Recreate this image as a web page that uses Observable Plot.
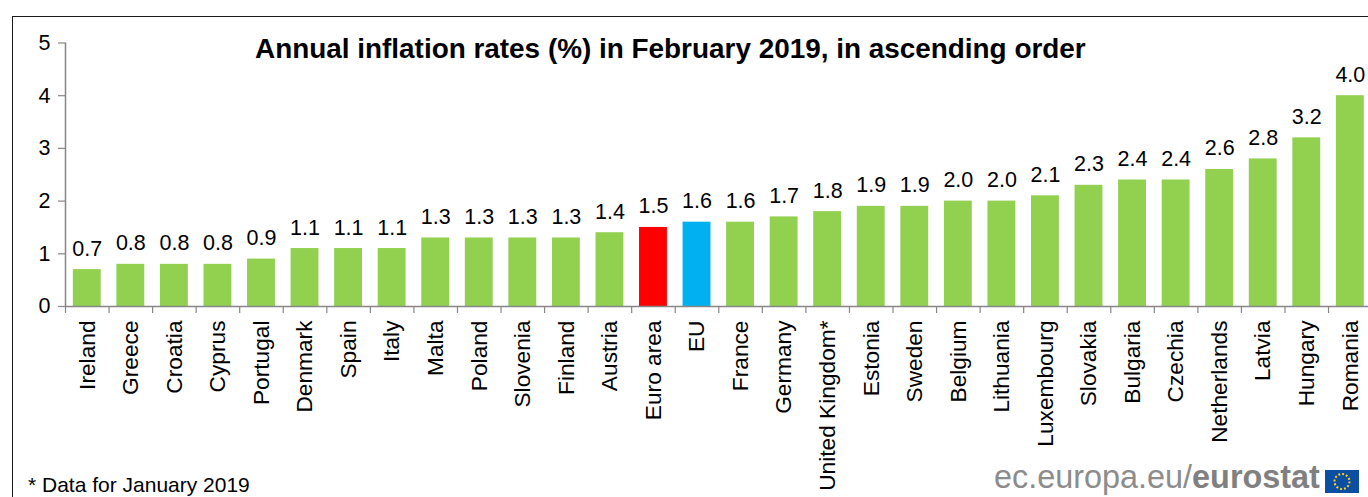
<!DOCTYPE html>
<html>
<head>
<meta charset="utf-8">
<script src="https://cdn.jsdelivr.net/npm/d3@7"></script>
<script src="https://cdn.jsdelivr.net/npm/@observablehq/plot@0.6"></script>
<style>
  html, body { margin: 0; padding: 0; background: #fff; overflow: hidden; }
  #wrap { position: relative; width: 1368px; height: 497px; overflow: hidden; font-family: "Liberation Sans", Arial, sans-serif; color: #000; }
  #border { position: absolute; left: 12px; top: 16px; width: 1400px; height: 520px; border: 1.5px solid #1a1a1a; box-sizing: border-box; }
  #chart { position: absolute; left: 0; top: 0; }
  #chart svg { overflow: visible; background: transparent; }
  #title { position: absolute; left: 255px; top: 34px; font-size: 27.9px; font-weight: bold; white-space: nowrap; line-height: 30px; }
  #note { position: absolute; left: 28px; top: 473px; font-size: 21px; white-space: nowrap; line-height: 23px; }
  #logo { position: absolute; left: 994px; top: 462px; font-size: 32.4px; color: #8c8c8c; white-space: nowrap; line-height: 30px; }
  #logo b { font-weight: bold; color: #808080; }
  #flag { position: absolute; left: 1325px; top: 470px; }
</style>
</head>
<body>
<div id="wrap">
  <div id="border"></div>
  <div id="chart"></div>
  <div id="title">Annual inflation rates (%) in February 2019, in ascending order</div>
  <div id="note">* Data for January 2019</div>
  <div id="logo">ec.europa.eu/<b>eurostat</b></div>
  <svg id="flag" width="34" height="23" viewBox="0 0 34 23">
    <rect width="34" height="23" fill="#0b4ea2"/>
    <circle cx="17" cy="11.5" r="7.5" fill="none" stroke="#ffd617" stroke-width="2" stroke-dasharray="1.9 2.02"/>
  </svg>
</div>
<script>
const countries = ["Ireland","Greece","Croatia","Cyprus","Portugal","Denmark","Spain","Italy","Malta","Poland","Slovenia","Finland","Austria","Euro area","EU","France","Germany","United Kingdom*","Estonia","Sweden","Belgium","Lithuania","Luxembourg","Slovakia","Bulgaria","Czechia","Netherlands","Latvia","Hungary","Romania"];
const rates = [0.7,0.8,0.8,0.8,0.9,1.1,1.1,1.1,1.3,1.3,1.3,1.3,1.4,1.5,1.6,1.6,1.7,1.8,1.9,1.9,2.0,2.0,2.1,2.3,2.4,2.4,2.6,2.8,3.2,4.0];
const yTicks = [0,1,2,3,4,5];

const rows = countries.map((country, i) => ({country, rate: rates[i]}));
const colorOf = c => c === "Euro area" ? "#ff0000" : c === "EU" ? "#00b0f0" : "#92d050";
const axisColor = "#868686";
const halfStep = 21.78;
const fontSize = 21.5;

const plot = Plot.plot({
  width: 1368,
  height: 497,
  marginLeft: 65,
  marginRight: 0,
  marginTop: 42,
  marginBottom: 191,
  style: {fontFamily: '"Liberation Sans", Arial, sans-serif', background: "transparent", overflow: "visible"},
  x: {domain: countries, range: [65, 1371.6], paddingInner: 0.36, paddingOuter: 0.18, round: false, label: null},
  y: {domain: [0, 5], range: [306, 42.5], label: null},
  marks: [
    Plot.barY(rows, {x: "country", y: "rate", fill: d => colorOf(d.country)}),
    Plot.ruleY([0], {stroke: axisColor, strokeWidth: 1.5}),
    Plot.ruleX([countries[0]], {y1: 0, y2: 5, dx: -halfStep, stroke: axisColor, strokeWidth: 1.5}),
    Plot.axisY({ticks: yTicks, tickSize: 7, tickPadding: 8, stroke: axisColor, fill: "#000", fontSize, tickFormat: d3.format("d"), label: null, strokeWidth: 1.2}),
    Plot.axisX({tickSize: 7, text: null, stroke: axisColor, dx: -halfStep, label: null, strokeWidth: 1.2}),
    Plot.axisX({tickSize: 0, tickPadding: 14, tickRotate: -90, fill: "#000", fontSize: 22.7, label: null}),
    Plot.text(rows, {x: "country", y: "rate", text: d => d.rate.toFixed(1), lineAnchor: "bottom", dy: -14, fontSize, fill: "#000"})
  ]
});
document.getElementById("chart").appendChild(plot);
</script>
</body>
</html>
